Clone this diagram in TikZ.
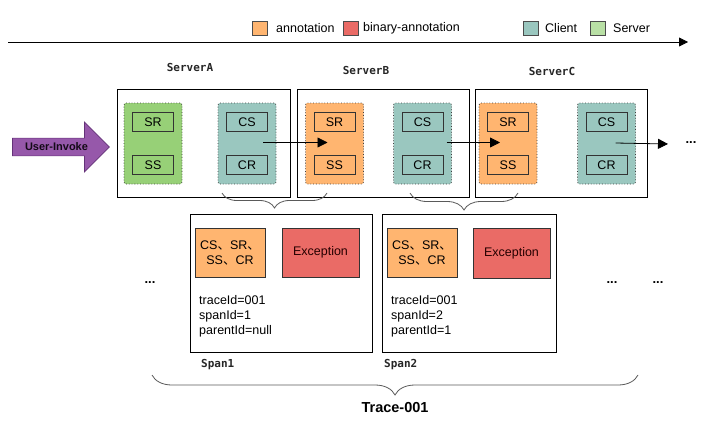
\documentclass[tikz,border=0pt]{standalone}
\usepackage{fontspec}
\setmainfont{Liberation Sans}
\newfontfamily\monof{DejaVu Sans Mono}
\newfontfamily\cjkf{Noto Sans CJK SC}
\usetikzlibrary{arrows.meta,shapes.arrows,decorations.pathreplacing,calc}
\definecolor{cgreen}{HTML}{97D077}
\definecolor{lgreen}{HTML}{B9E0A5}
\definecolor{cteal}{HTML}{9AC7BF}
\definecolor{corange}{HTML}{FFB570}
\definecolor{cred}{HTML}{EA6B66}
\definecolor{cpurple}{RGB}{150,88,170}
\definecolor{dpurple}{RGB}{100,50,120}
\definecolor{bracegray}{RGB}{90,90,90}
\newcommand{\ck}{{\cjkf 、}}
\begin{document}
\begin{tikzpicture}[x=1pt,y=-1pt,
  txt/.style={font=\fontsize{12.5}{14}\selectfont, inner sep=0pt},
  mono/.style={font=\monof\bfseries\fontsize{11}{12}\selectfont, inner sep=0pt, text=black!85},
  legsq/.style={draw=black!70, line width=0.5pt, minimum width=15pt, minimum height=14pt, inner sep=0pt},
  srvbox/.style={draw=black, line width=0.7pt, minimum width=173pt, minimum height=108pt, inner sep=0pt},
  inbox/.style={draw=black!75, dotted, line width=0.8pt, rounded corners=2pt, minimum width=58pt, minimum height=81pt, inner sep=0pt},
  smbox/.style={draw=black!80, line width=0.7pt, minimum width=41pt, minimum height=19pt, inner sep=0pt, font=\fontsize{12.5}{14}\selectfont},
  spanbox/.style={draw=black, line width=0.7pt, minimum height=138pt, inner sep=0pt},
  annbox/.style={draw=black!80, line width=0.7pt, minimum height=49pt, inner sep=0pt, font=\fontsize{12.5}{15}\selectfont, align=center},
  flow/.style={draw=black, line width=0.8pt, -{Triangle[length=10pt,width=10pt]}},
  brc/.style={draw=bracegray, line width=0.8pt, decorate},
  dots/.style={font=\bfseries\fontsize{13}{14}\selectfont, inner sep=0pt}
]
\useasboundingbox (0,0) rectangle (712,423);

% timeline
\coordinate (t0) at (8,42);
\coordinate (t1) at (688,42);
\draw[line width=0.8pt, -{Triangle[length=9pt,width=9pt]}] (t0) -- (t1);

% legend
\node[legsq, fill=corange] (lg1) at (259.5,28.5) {};
\node[txt, anchor=west] (lt1) at (276,28.5) {annotation};
\node[legsq, fill=cred] (lg2) at (351,28.5) {};
\node[txt, anchor=west] (lt2) at (363,28.5) {binary-annotation};
\node[legsq, fill=cteal] (lg3) at (531,28.5) {};
\node[txt, anchor=west] (lt3) at (545,28.5) {Client};
\node[legsq, fill=lgreen] (lg4) at (597.5,28.5) {};
\node[txt, anchor=west] (lt4) at (613,28.5) {Server};

% server labels
\node[mono] (la) at (190,67) {ServerA};
\node[mono] (lb) at (366,70) {ServerB};
\node[mono] (lc) at (552,71) {ServerC};

% server boxes
\node[srvbox] (srvA) at (203.5,143) {};
\node[srvbox, minimum width=172pt] (srvB) at (383,143) {};
\node[srvbox, minimum width=172pt] (srvC) at (561,143) {};

% inner boxes
\node[inbox, fill=cgreen] (aS) at (153,143.5) {};
\node[inbox, fill=cteal] (aC) at (247,143.5) {};
\node[inbox, fill=corange] (bS) at (334.5,143.5) {};
\node[inbox, fill=cteal] (bC) at (422.5,143.5) {};
\node[inbox, fill=corange] (cS) at (508,143.5) {};
\node[inbox, fill=cteal] (cC) at (606.5,143.5) {};

% small boxes
\node[smbox, fill=cgreen] (aSR) at (153,122) {SR};
\node[smbox, fill=cgreen] (aSS) at (153,165) {SS};
\node[smbox, fill=cteal] (aCS) at (247,122) {CS};
\node[smbox, fill=cteal] (aCR) at (247,165) {CR};
\node[smbox, fill=corange] (bSR) at (334.5,122) {SR};
\node[smbox, fill=corange] (bSS) at (334.5,165) {SS};
\node[smbox, fill=cteal] (bCS) at (422.5,122) {CS};
\node[smbox, fill=cteal] (bCR) at (422.5,165) {CR};
\node[smbox, fill=corange] (cSR) at (508,122) {SR};
\node[smbox, fill=corange] (cSS) at (508,165) {SS};
\node[smbox, fill=cteal] (cCS) at (606.5,122) {CS};
\node[smbox, fill=cteal] (cCR) at (606.5,165) {CR};

% user invoke
\node[single arrow, draw=dpurple, fill=cpurple, line width=0.7pt,
      minimum height=97pt, minimum width=50pt, single arrow head extend=8pt,
      inner sep=0pt, font=\bfseries\fontsize{11}{12}\selectfont, text=black!80!dpurple]
      (inv) at (56.5,147) {User-Invoke\hspace{12pt}};

% flow arrows
\coordinate (e3) at (668,144);
\draw[flow] ([xshift=16pt,yshift=1pt]aC.center) -- ([xshift=-7pt,yshift=1pt]bS.center);
\draw[flow] ([xshift=24pt,yshift=1pt]bC.center) -- ([xshift=-8pt,yshift=1pt]cS.center);
\draw[flow] ([xshift=9pt,yshift=0.5pt]cC.center) -- (e3);
\node[dots] (d0) at (691,143) {...};

% braces
\draw[brc, decoration={brace, amplitude=15pt}] (327,193) -- (222,193);
\draw[brc, decoration={brace, amplitude=17pt}] (518,193) -- (410,193);
\draw[brc, decoration={brace, amplitude=20pt}] (638,375) -- (152,375);

% spans
\node[spanbox, minimum width=182pt] (sp1) at (281,283) {};
\node[spanbox, minimum width=174pt] (sp2) at (469,283) {};
\node[annbox, fill=corange, minimum width=70pt] (a1) at (230,252.5) {CS\ck SR\ck\\SS\ck CR};
\node[annbox, fill=cred, minimum width=77pt, text=black!85!red] (x1) at (320.5,252.5) {Exception};
\node[annbox, fill=corange, minimum width=70pt] (a2) at (422,252.5) {CS\ck SR\ck\\SS\ck CR};
\node[annbox, fill=cred, minimum width=77pt, minimum height=50pt, text=black!85!red] (x2) at (511.5,253) {Exception};

\node[txt, anchor=west, align=left, font=\fontsize{12.5}{15}\selectfont] (i1) at (199,316) {traceId=001\\spanId=1\\parentId=null};
\node[txt, anchor=west, align=left, font=\fontsize{12.5}{15}\selectfont] (i2) at (391,316) {traceId=001\\spanId=2\\parentId=1};

\node[mono, anchor=west] (s1) at (201,365) {Span1};
\node[mono, anchor=west] (s2) at (384,365) {Span2};

\node[dots] (d1) at (150,283) {...};
\node[dots] (d2) at (612,283) {...};
\node[dots] (d3) at (658,283) {...};

\node[txt, font=\bfseries\fontsize{14.5}{16}\selectfont] (tr) at (395,408) {Trace-001};
\end{tikzpicture}
\end{document}
